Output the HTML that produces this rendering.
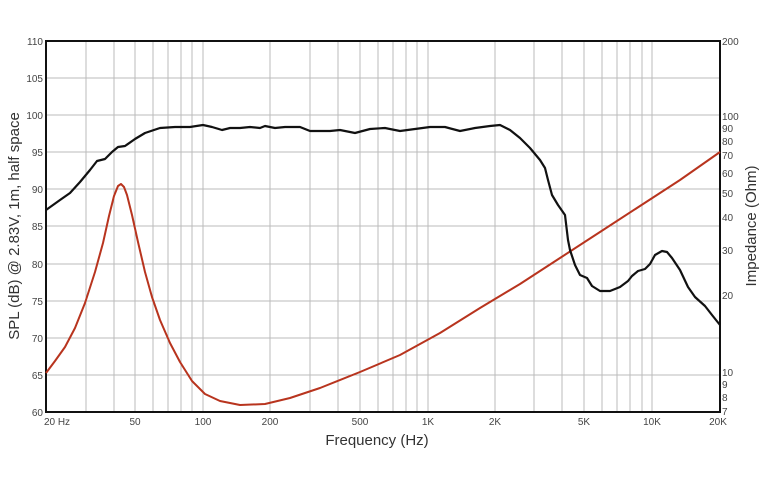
<!DOCTYPE html>
<html><head><style>body{margin:0;background:#fff}svg{display:block}</style></head><body>
<svg width="767" height="484" viewBox="0 0 767 484" xmlns="http://www.w3.org/2000/svg" font-family="Liberation Sans, sans-serif">
<g stroke="#bbb" stroke-width="1">
<line x1="86" y1="41" x2="86" y2="412"/><line x1="114" y1="41" x2="114" y2="412"/><line x1="135" y1="41" x2="135" y2="412"/><line x1="153" y1="41" x2="153" y2="412"/><line x1="168" y1="41" x2="168" y2="412"/><line x1="181" y1="41" x2="181" y2="412"/><line x1="192" y1="41" x2="192" y2="412"/><line x1="203" y1="41" x2="203" y2="412"/>
<line x1="270" y1="41" x2="270" y2="412"/><line x1="310" y1="41" x2="310" y2="412"/><line x1="338" y1="41" x2="338" y2="412"/><line x1="360" y1="41" x2="360" y2="412"/><line x1="378" y1="41" x2="378" y2="412"/><line x1="393" y1="41" x2="393" y2="412"/><line x1="406" y1="41" x2="406" y2="412"/><line x1="417" y1="41" x2="417" y2="412"/><line x1="428" y1="41" x2="428" y2="412"/>
<line x1="495" y1="41" x2="495" y2="412"/><line x1="534" y1="41" x2="534" y2="412"/><line x1="562" y1="41" x2="562" y2="412"/><line x1="584" y1="41" x2="584" y2="412"/><line x1="602" y1="41" x2="602" y2="412"/><line x1="617" y1="41" x2="617" y2="412"/><line x1="630" y1="41" x2="630" y2="412"/><line x1="642" y1="41" x2="642" y2="412"/><line x1="652" y1="41" x2="652" y2="412"/>
<line x1="46" y1="78" x2="720" y2="78"/><line x1="46" y1="115" x2="720" y2="115"/><line x1="46" y1="152" x2="720" y2="152"/><line x1="46" y1="189" x2="720" y2="189"/><line x1="46" y1="226" x2="720" y2="226"/><line x1="46" y1="264" x2="720" y2="264"/><line x1="46" y1="301" x2="720" y2="301"/><line x1="46" y1="338" x2="720" y2="338"/><line x1="46" y1="375" x2="720" y2="375"/>
</g>
<line x1="45" y1="41" x2="721" y2="41" stroke="#111" stroke-width="2"/>
<line x1="46" y1="41" x2="46" y2="413" stroke="#111" stroke-width="2"/>
<line x1="45" y1="412" x2="721" y2="412" stroke="#111" stroke-width="2"/>
<line x1="720" y1="41" x2="720" y2="413" stroke="#111" stroke-width="2"/>
<polyline fill="none" stroke="#b8341e" stroke-width="2" stroke-linejoin="round" points="46,373 55,361 65,347 75,328 85,303 95,272 103,243 109,216 114,196 118,186 121,184 124,187 127,195 132,215 138,242 145,272 152,297 160,320 170,343 180,362 192,381 205,394 220,401 240,405 265,404 290,398 320,388 360,372 400,355 440,333 480,308 520,284 560,258 600,232 640,206 680,180 720,152"/>
<polyline fill="none" stroke="#111" stroke-width="2.2" stroke-linejoin="round" points="46,210 60,200 70,193 80,182 90,170 97,161 105,159 112,152 118,147 125,146 135,139 145,133 160,128 175,127 190,127 203,125 212,127 222,130 230,128 240,128 250,127 260,128 265,126 275,128 285,127 300,127 310,131 330,131 340,130 355,133 370,129 385,128 400,131 415,129 430,127 445,127 460,131 475,128 490,126 500,125 510,130 520,138 530,148 540,160 545,168 548,180 552,195 558,205 565,215 568,240 570,250 575,265 580,275 587,278 592,286 600,291 610,291 620,287 628,281 632,276 638,271 645,269 650,264 655,255 662,251 667,252 672,258 680,270 688,287 695,297 705,306 712,315 720,325"/>
<g font-size="10" fill="#444" text-anchor="end">
<text x="43" y="45">110</text><text x="43" y="82">105</text><text x="43" y="119">100</text><text x="43" y="156">95</text><text x="43" y="193">90</text><text x="43" y="230">85</text><text x="43" y="268">80</text><text x="43" y="305">75</text><text x="43" y="342">70</text><text x="43" y="379">65</text><text x="43" y="416">60</text>
</g>
<g font-size="10" fill="#444">
<text x="722" y="45">200</text><text x="722" y="120">100</text><text x="722" y="132">90</text><text x="722" y="145">80</text><text x="722" y="159">70</text><text x="722" y="177">60</text><text x="722" y="197">50</text><text x="722" y="221">40</text><text x="722" y="254">30</text><text x="722" y="299">20</text><text x="722" y="376">10</text><text x="722" y="388">9</text><text x="722" y="401">8</text><text x="722" y="415">7</text>
</g>
<g font-size="10" fill="#444" text-anchor="middle">
<text x="57" y="425">20  Hz</text><text x="135" y="425">50</text><text x="203" y="425">100</text><text x="270" y="425">200</text><text x="360" y="425">500</text><text x="428" y="425">1K</text><text x="495" y="425">2K</text><text x="584" y="425">5K</text><text x="652" y="425">10K</text><text x="718" y="425">20K</text>
</g>
<text x="377" y="445" font-size="15" fill="#333" text-anchor="middle">Frequency (Hz)</text>
<text transform="translate(19,226) rotate(-90)" font-size="15" fill="#333" text-anchor="middle">SPL (dB) @ 2.83V, 1m, half space</text>
<text transform="translate(756,226) rotate(-90)" font-size="15" fill="#333" text-anchor="middle">Impedance (Ohm)</text>
</svg>
</body></html>
